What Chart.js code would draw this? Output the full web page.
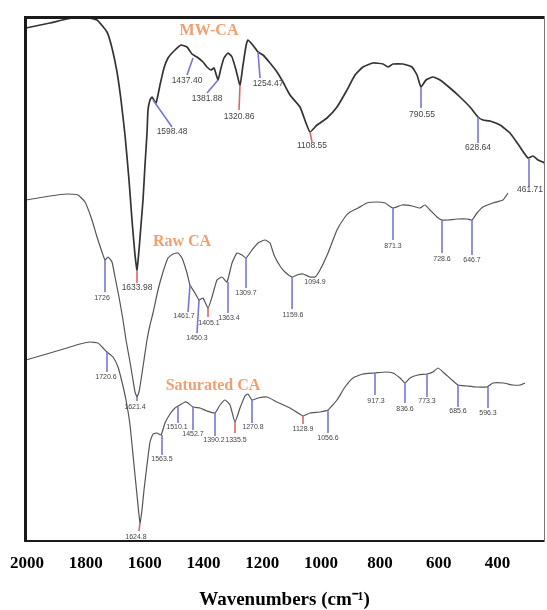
<!DOCTYPE html>
<html>
<head>
<meta charset="utf-8">
<script src="https://cdn.jsdelivr.net/npm/chart.js@4.4.1/dist/chart.umd.min.js"></script>
<style>
  html, body { margin: 0; padding: 0; background: #fff; }
</style>
</head>
<body>
<canvas id="ftir" width="547" height="610"></canvas>
<script>
// x = wavenumber, y = offset transmittance (arbitrary units)
const tickValues = [2000, 1800, 1600, 1400, 1200, 1000, 800, 600, 400];

const mwX = [2003.4,1921.8,1864,1809.6,1762,1728,1711,1694,1680.4,1666.8,1653.2,1643,1632.8,1626,1619.2,1612.4,1605.6,1598.8,1592,1588.6,1581.8,1575,1561.4,1547.8,1534.2,1520.6,1503.6,1476.4,1456,1439,1422,1401.6,1388,1374.4,1364,1350.6,1340.4,1330.2,1316.6,1303,1289.4,1275.8,1265.6,1255.4,1248.6,1238.4,1224.8,1214.6,1197.6,1173.8,1150,1129.6,1105.8,1071.8,1051.4,1037.8,1014,980,946,912,884.8,857.6,823.6,789.6,772.6,755.6,721.6,691,674,660.4,643.4,619.6,595.8,561.8,527.8,493.8,466.6,449.6,425.8,391.8,357.8,323.8,296.6,279.6,262.6,238.8];
const mwY = [102.8,103.8,104.6,105,104.4,102,98.8,94,88.4,81.4,72.4,64.4,57.4,54.4,58.4,63.4,68.4,75.4,81.8,86.4,88.4,89,87.8,91.4,94.8,96.8,98,99.4,99,97.6,97,96,95,94.4,94.8,92.4,94.8,96.8,97.8,97,94.4,91.4,95.4,99.2,100.4,99.8,98.8,98,97.4,95.8,94,92,89.4,87,83.8,82,83.4,84.8,87,90.4,93.4,95,95.8,95.6,95,95.6,95.6,95,93.4,91,92.4,93,92.4,90.8,89,87,85,84.4,84.2,83.4,81.8,79,76.8,77.2,76.4,75.8];

const rawX = [2003.4,1921.8,1864,1826.6,1802.8,1779,1762,1745,1734.8,1724.6,1711,1700.8,1687.2,1673.6,1663.4,1649.8,1639.6,1632.8,1626,1619.2,1612.4,1602.2,1592,1581.8,1571.6,1554.6,1537.6,1520.6,1503.6,1486.6,1473,1456,1445.8,1428.8,1415.2,1401.6,1384.6,1371,1354,1337,1320,1303,1286,1269,1255.4,1235,1214.6,1190.8,1173.8,1160.2,1139.8,1122.8,1098.8,1081.8,1061.6,1037.8,1020.8,1003.8,976.6,946,918.8,901.8,874.6,844,810,782.8,755.6,725.2,691,663.8,646.8,629.8,606,589,568.6,538,504,487,470,449.6,415.6,381.6,364.6];
const rawY = [68.4,69.2,69.6,69.4,68,64.4,61,58,56.4,57,56,53,49,44.4,40.4,36,32.4,30,29,30,32.4,36.4,40.4,43.4,45.8,50.4,54,56.8,57.6,57.8,56.8,53.8,51.4,49.8,48.4,48.8,46.8,49,52.4,53,52,55.8,57.8,57.4,56.8,58.4,59.8,60.4,59.8,57.4,55.2,54,53,53.4,53.6,53,53,54.4,57.8,62.4,65,66,66.8,67.8,68,67.8,66.8,67.4,67.2,66.8,67.4,66.4,65,64.4,64.4,64.6,64.6,64.4,65.8,67,67.8,68.4,69.8];

const satX = [2003.4,1921.8,1864,1819.8,1785.8,1758.6,1741.6,1728,1707.6,1690.6,1677,1663.4,1649.8,1636.2,1626,1615.8,1609,1602.2,1592,1581.8,1571.6,1558,1544.4,1530.8,1513.8,1496.8,1479.8,1462.8,1452.6,1435.6,1411.8,1388,1360.8,1343.8,1326.8,1309.8,1292.8,1275.8,1258.8,1248.6,1235,1214.6,1184,1150,1105.8,1078.6,1061.6,1037.8,1003.8,976.6,946,918.8,891.6,857.6,816.8,782.8,755.6,731.8,714.8,697.8,670.6,640,619.6,602.6,585.6,555,534.6,504,470,436,415.6,381.6,347.6,323.8,306.8];
const satY = [36.4,37.8,38.8,39.6,40,39.8,38.8,38,37,35,32,28.4,23.4,15.4,9.4,3.8,6.4,10.4,15.4,20,21.6,21.8,21.4,23.8,25.6,26.8,27.4,28,27.8,27,26.8,26.2,25.8,27.4,28.4,27.4,24,26.8,29.2,29.6,28.4,28.8,29,28,26.8,25.8,25.2,25.8,26,26.4,28.4,31,32.8,33.6,33.8,34,33.8,32.8,31.8,32.8,33.4,33.6,34,34.8,34,32.4,31.4,31.2,31,31,31.8,31.8,31.4,31.4,31.8];

// peak marks: [label, trace x, trace y, line end x, line end y, label x, label y]
const mwPeaks = [
  ['1633.98', 1626, 54.4, 1626, 51.8, 1626, 50.8],
  ['1598.48', 1571.6, 88.4, 1507, 83, 1507, 82],
  ['1437.40', 1435.6, 96.8, 1456, 93.4, 1456, 92.2],
  ['1381.88', 1350.6, 92.4, 1388, 89.8, 1388, 88.6],
  ['1320.86', 1275.8, 91.4, 1279.2, 86.4, 1279.2, 85],
  ['1254.47', 1214.6, 98, 1207.8, 92.8, 1180.6, 91.6],
  ['1108.55', 1037.8, 82, 1031, 80, 1031, 79.2],
  ['790.55', 660.4, 91, 660.4, 86.8, 657, 85.4],
  ['628.64', 466.6, 85, 466.6, 79.8, 466.6, 78.8],
  ['461.71', 293.2, 76.6, 293.2, 71, 289.8, 70.4]
];
const rawPeaks = [
  ['1726', 1734.8, 56.4, 1734.8, 50, 1745, 48.8],
  ['1621.4', 1626, 29, 1626, 28.2, 1632.8, 27],
  ['1461.7', 1445.8, 51.4, 1452.6, 46, 1466.2, 45.2],
  ['1450.3', 1415.2, 48.4, 1422, 41.8, 1422, 40.8],
  ['1405.1', 1384.6, 46.8, 1384.6, 45, 1381.2, 43.8],
  ['1363.4', 1316.6, 52, 1316.6, 45.8, 1313.2, 44.8],
  ['1309.7', 1255.4, 57, 1255.4, 50.8, 1255.4, 49.8],
  ['1159.6', 1098.8, 53, 1098.8, 46.6, 1095.4, 45.4],
  ['1094.9', 1020.8, 53, 1020.8, 53, 1020.8, 52],
  ['871.3', 755.6, 66.8, 755.6, 60.4, 755.6, 59.2],
  ['728.6', 589, 64.4, 589, 57.8, 589, 56.6],
  ['646.7', 487, 64.4, 487, 57.4, 487, 56.4]
];
const satPeaks = [
  ['1720.6', 1728, 38, 1728, 34, 1731.4, 33],
  ['1624.8', 1615.8, 3.8, 1619.2, 2.2, 1629.4, 1],
  ['1563.5', 1541, 21.4, 1541, 17.4, 1541, 16.6],
  ['1510.1', 1486.6, 27, 1486.6, 23.8, 1490, 23],
  ['1452.7', 1435.6, 27, 1435.6, 22.4, 1435.6, 21.6],
  ['1390.2', 1360.8, 25.8, 1360.8, 21.2, 1364.2, 20.4],
  ['1335.5', 1292.8, 24, 1292.8, 21.8, 1289.4, 20.4],
  ['1270.8', 1235, 28.4, 1235, 23.8, 1231.6, 23],
  ['1128.9', 1061.6, 25.2, 1061.6, 23.6, 1061.6, 22.6],
  ['1056.6', 976.6, 26.4, 976.6, 21.8, 976.6, 20.8],
  ['917.3', 816.8, 33.8, 816.8, 29.4, 813.4, 28.2],
  ['836.6', 714.8, 31.8, 714.8, 27.8, 714.8, 26.6],
  ['773.3', 640, 33.6, 640, 29, 640, 28.2],
  ['685.6', 534.6, 31.4, 534.6, 27, 534.6, 26.2],
  ['596.3', 432.6, 31, 432.6, 26.8, 432.6, 25.8]
];
const redPeaks = ['1633.98', '1320.86', '1108.55', '1405.1', '1624.8', '1335.5', '1128.9'];

const seriesNames = ['MW-CA', 'Raw CA', 'Saturated CA'];
const nameX = [1381.2, 1473, 1367.6];
const nameY = [102.2, 60, 31.2];

const serif = '"Liberation Serif", "Times New Roman", serif';

function pts(xs, ys) {
  return xs.map((v, i) => ({x: v, y: ys[i]}));
}

const peakPlugin = {
  id: 'peakMarks',
  afterDatasetsDraw(chart) {
    const {ctx, chartArea: a, scales: {x, y}} = chart;
    ctx.save();

    // frame round the plot
    ctx.strokeStyle = '#1a1a1a';
    ctx.lineWidth = 3;
    ctx.beginPath();
    ctx.moveTo(a.left + 1.5, a.bottom);
    ctx.lineTo(a.left + 1.5, a.top + 1.5);
    ctx.lineTo(a.right, a.top + 1.5);
    ctx.stroke();
    ctx.lineWidth = 2;
    ctx.beginPath();
    ctx.moveTo(a.left, a.bottom - 1);
    ctx.lineTo(a.right, a.bottom - 1);
    ctx.stroke();
    ctx.strokeStyle = '#777';
    ctx.lineWidth = 1;
    ctx.beginPath();
    ctx.moveTo(a.right - 0.5, a.top);
    ctx.lineTo(a.right - 0.5, a.bottom);
    ctx.stroke();

    // peak lines and labels
    const groups = [[mwPeaks, 8.5], [rawPeaks, 7], [satPeaks, 7]];
    groups.forEach(([rows, size]) => {
      rows.forEach(r => {
        const red = redPeaks.includes(r[0]);
        ctx.strokeStyle = red ? '#e06464' : '#7676d8';
        ctx.lineWidth = 1.6;
        ctx.beginPath();
        ctx.moveTo(x.getPixelForValue(r[1]), y.getPixelForValue(r[2]));
        ctx.lineTo(x.getPixelForValue(r[3]), y.getPixelForValue(r[4]));
        ctx.stroke();
        ctx.fillStyle = '#444';
        ctx.font = size + 'px "Liberation Sans", Arial, sans-serif';
        ctx.textAlign = 'center';
        ctx.textBaseline = 'middle';
        ctx.fillText(r[0], x.getPixelForValue(r[5]), y.getPixelForValue(r[6]));
      });
    });

    // series names
    ctx.font = 'bold 16px ' + serif;
    ctx.fillStyle = '#f0a070';
    ctx.textAlign = 'center';
    ctx.textBaseline = 'middle';
    seriesNames.forEach((n, i) => {
      ctx.fillText(n, x.getPixelForValue(nameX[i]), y.getPixelForValue(nameY[i]));
    });
    ctx.restore();
  }
};

new Chart(document.getElementById('ftir'), {
  type: 'line',
  data: {
    datasets: [
      {label: seriesNames[0], data: pts(mwX, mwY), borderColor: '#333', borderWidth: 1.7},
      {label: seriesNames[1], data: pts(rawX, rawY), borderColor: '#555', borderWidth: 1.2},
      {label: seriesNames[2], data: pts(satX, satY), borderColor: '#555', borderWidth: 1.2}
    ]
  },
  options: {
    responsive: false,
    animation: false,
    devicePixelRatio: 1,
    parsing: false,
    elements: {
      point: {radius: 0},
      line: {tension: 0.15, fill: false}
    },
    layout: {padding: {left: 24, right: 2, top: 16, bottom: 0}},
    plugins: {
      legend: {display: false},
      tooltip: {enabled: false}
    },
    scales: {
      x: {
        type: 'linear',
        reverse: true,
        min: 238.8,
        max: 2010.2,
        grid: {display: false},
        border: {display: false},
        afterBuildTicks: axis => {
          axis.ticks = tickValues.map(v => ({value: v}));
        },
        afterFit: axis => {
          axis.height = 68;
          axis.paddingLeft = 0;
          axis.paddingRight = 0;
        },
        ticks: {
          color: '#000',
          padding: 3,
          maxRotation: 0,
          autoSkip: false,
          callback: v => String(v),
          font: {family: serif, size: 17, weight: 'bold'}
        },
        title: {
          display: true,
          text: 'Wavenumbers (cm\u207B\u00B9)',
          color: '#000',
          padding: {top: 0, bottom: 0},
          font: {family: serif, size: 19, weight: 'bold', lineHeight: 1}
        }
      },
      y: {
        display: false,
        min: 0,
        max: 105.2
      }
    }
  },
  plugins: [peakPlugin]
});
</script>
</body>
</html>
